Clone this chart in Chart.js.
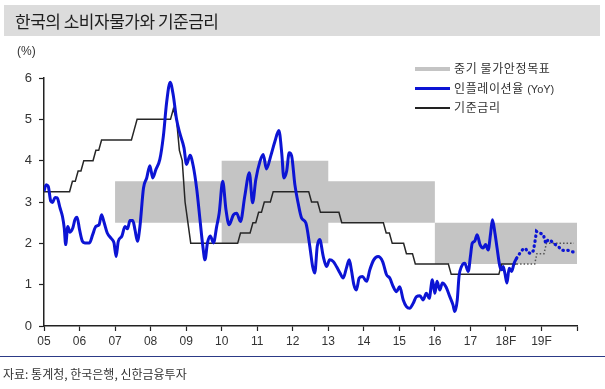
<!DOCTYPE html>
<html>
<head>
<meta charset="utf-8">
<script src="https://cdn.jsdelivr.net/npm/chart.js@4.4.1/dist/chart.umd.min.js"></script>
<style>
  body{margin:0;width:605px;height:389px;background:#fff;position:relative;overflow:hidden;font-family:"Noto Sans CJK KR","Noto Sans",sans-serif;color:#333}
  #chartWrap{position:absolute;left:0;top:0;width:605px;height:389px}
  #title{position:absolute;left:4px;top:5px;width:596px;height:31px;background:#dcdcdc}
  #title span{position:absolute;left:11px;top:3px;font-size:17px;color:#1e1e1e;letter-spacing:-0.5px}
  #unit{position:absolute;left:17px;top:44px;font-family:"Liberation Sans",Arial,sans-serif;font-size:12px;color:#333}
  .lg{position:absolute;left:415px;height:16px;font-size:12px;color:#333;white-space:nowrap}
  .lg i{position:absolute;left:0;width:35px}
  .lg span{position:absolute;left:39px;top:-1px;letter-spacing:0.6px}
  .lg span b{font-family:"Liberation Sans",Arial,sans-serif;font-weight:normal;font-size:11px;letter-spacing:0}
  #sep{position:absolute;left:0;top:356px;width:605px;height:1px;background:#2c3a86}
  #src{position:absolute;left:3px;top:365px;font-size:12px;color:#333}
</style>
</head>
<body>
<div id="chartWrap"><canvas id="chart" width="605" height="389"></canvas></div>
<div id="title"><span>한국의 소비자물가와 기준금리</span></div>
<div id="unit">(%)</div>
<div class="lg" style="top:60px"><i style="top:7px;height:4px;background:#c4c4c4"></i><span>중기 물가안정목표</span></div>
<div class="lg" style="top:80px"><i style="top:7px;height:3px;background:#0c14d4"></i><span>인플레이션율 <b>(YoY)</b></span></div>
<div class="lg" style="top:99px"><i style="top:8px;height:1.5px;background:#222"></i><span>기준금리</span></div>
<div id="sep"></div>
<div id="src">자료: 통계청, 한국은행, 신한금융투자</div>
<script>
// x 축 눈금 (2005 ~ 2020)
const xTickLabels = ['05','06','07','08','09','10','11','12','13','14','15','16','17','18F','19F',''];

// 중기 물가안정목표 범위 (구간 모서리)
const targetYears = [2007, 2010, 2010, 2013, 2013, 2016, 2016, 2020];
const targetUpper = [3.5, 3.5, 4.0, 4.0, 3.5, 3.5, 2.5, 2.5];
const targetLower = [2.5, 2.5, 2.0, 2.0, 2.5, 2.5, 1.5, 1.5];

// 인플레이션율 (YoY), 실적
const cpiYears = [2005.00,2005.06,2005.12,2005.19,2005.24,2005.31,2005.37,2005.45,2005.52,2005.57,2005.61,2005.67,2005.73,2005.81,2005.87,2005.93,
  2006.00,2006.08,2006.15,2006.28,2006.37,2006.46,2006.55,2006.62,2006.69,2006.78,2006.90,2006.97,
  2007.03,2007.09,2007.19,2007.28,2007.35,2007.42,2007.50,2007.56,2007.63,2007.70,2007.80,2007.89,2007.98,
  2008.06,2008.15,2008.26,2008.36,2008.45,2008.55,2008.64,2008.73,2008.83,2008.94,
  2009.01,2009.11,2009.20,2009.30,2009.39,2009.47,2009.53,2009.60,2009.68,2009.77,2009.86,2009.93,
  2010.03,2010.12,2010.21,2010.33,2010.42,2010.53,2010.65,2010.78,2010.87,2010.96,
  2011.08,2011.17,2011.26,2011.38,2011.50,2011.61,2011.69,2011.75,2011.83,2011.90,2011.97,
  2012.06,2012.15,2012.25,2012.37,2012.48,2012.56,2012.62,2012.69,2012.76,2012.86,2012.95,
  2013.04,2013.14,2013.23,2013.33,2013.42,2013.51,2013.59,2013.65,2013.72,2013.79,2013.87,2013.96,
  2014.08,2014.17,2014.28,2014.40,2014.53,2014.64,2014.73,2014.83,2014.92,
  2015.01,2015.11,2015.20,2015.29,2015.39,2015.48,2015.58,2015.67,2015.76,2015.84,2015.93,
  2016.00,2016.06,2016.14,2016.21,2016.31,2016.42,2016.51,2016.56,2016.63,2016.68,2016.75,2016.84,2016.94,
  2017.00,2017.05,2017.12,2017.19,2017.27,2017.36,2017.43,2017.50,2017.57,2017.62,2017.69,2017.75,2017.83,2017.88,2017.92,2017.97,
  2018.03,2018.09,2018.16,2018.23,2018.30];
const cpiValues = [3.26,3.42,3.38,3.02,2.99,3.11,3.10,2.86,2.65,2.37,1.97,2.41,2.27,2.37,2.57,2.63,
  2.33,2.05,2.01,2.01,2.21,2.41,2.45,2.69,2.51,2.25,2.11,2.01,
  1.68,2.05,2.17,2.41,2.35,2.55,2.55,2.33,2.05,2.41,3.34,3.58,3.88,
  3.58,3.79,4.03,4.60,5.40,5.90,5.57,5.00,4.64,4.31,
  3.91,4.13,3.87,3.30,2.57,1.93,1.60,2.01,2.18,2.01,2.41,2.73,
  3.50,2.82,2.45,2.69,2.73,2.53,3.14,3.71,2.98,3.54,
  3.99,4.15,3.80,4.11,4.47,4.73,4.19,3.58,3.75,4.19,4.11,
  3.42,2.98,2.61,2.49,1.93,1.44,1.28,1.93,2.09,1.68,1.44,
  1.60,1.56,1.44,1.28,1.16,1.40,1.60,1.36,1.00,0.87,1.16,1.20,
  1.08,1.36,1.60,1.68,1.56,1.24,1.16,0.95,0.83,
  0.95,0.63,0.47,0.43,0.55,0.71,0.73,0.63,0.79,0.67,1.12,
  0.79,1.08,0.87,1.04,0.95,0.71,0.51,0.35,0.63,1.20,1.44,1.52,1.32,
  1.68,2.00,2.05,2.21,1.97,1.89,1.97,1.84,2.25,2.57,2.25,1.89,1.44,1.36,1.44,1.28,
  1.04,1.40,1.32,1.52,1.64];

// 인플레이션율 전망
const cpiFcYears = [2018.30,2018.39,2018.48,2018.55,2018.62,2018.70,2018.77,2018.81,2018.86,2018.93,2019.05,2019.12,2019.19,2019.28,2019.37,2019.47,2019.56,2019.66,2019.75,2019.84,2019.91];
const cpiFcValues = [1.64,1.76,1.86,1.88,1.78,1.75,1.82,2.00,2.29,2.25,2.22,2.00,2.09,2.05,1.98,1.93,1.84,1.82,1.83,1.80,1.79];

// 기준금리, 실적
const rateYears = [2005.00,2005.72,2005.80,2005.88,2005.96,2006.04,2006.12,2006.38,2006.46,2006.54,2006.62,2007.46,2007.54,2007.62,
  2008.56,2008.64,2008.73,2008.81,2008.89,2008.97,2009.05,2009.13,
  2010.45,2010.53,2010.80,2010.88,2010.96,2011.04,2011.12,2011.20,2011.37,2011.45,
  2012.45,2012.53,2012.70,2012.78,2013.30,2013.38,2014.55,2014.63,2014.72,2014.80,
  2015.12,2015.20,2015.37,2015.45,2016.38,2016.46,2017.80,2017.88,2018.30];
const rateValues = [3.25,3.25,3.50,3.50,3.75,3.75,4.00,4.00,4.25,4.25,4.50,4.50,4.75,5.00,
  5.00,5.25,5.00,4.25,4.00,3.00,2.50,2.00,
  2.00,2.25,2.25,2.50,2.50,2.75,2.75,3.00,3.00,3.25,
  3.25,3.00,3.00,2.75,2.75,2.50,2.50,2.25,2.25,2.00,
  2.00,1.75,1.75,1.50,1.50,1.25,1.25,1.50,1.50];

// 기준금리 전망
const rateFcYears = [2018.30,2018.81,2018.87,2019.07,2019.14,2019.91];
const rateFcValues = [1.50,1.50,1.75,1.75,2.00,2.00];

const pts = (xs, ys) => xs.map((x, i) => ({ x, y: ys[i] }));

const BLUE = '#0c14d4';
const AXIS = '#222';
const TICK_FONT = { family: '"Liberation Sans", Arial, sans-serif' };

new Chart(document.getElementById('chart'), {
  type: 'line',
  data: {
    datasets: [
      { label: '인플레이션율 (YoY)', data: pts(cpiYears, cpiValues), borderColor: BLUE, borderWidth: 3,
        pointRadius: 0, cubicInterpolationMode: 'monotone', order: 0 },
      { label: '인플레이션율 전망', data: pts(cpiFcYears, cpiFcValues), borderColor: BLUE, borderWidth: 3.2,
        borderDash: [0.5, 4.5], borderCapStyle: 'round', pointRadius: 0, tension: 0, order: 1 },
      { label: '기준금리', data: pts(rateYears, rateValues), borderColor: '#262626', borderWidth: 1.5,
        pointRadius: 0, tension: 0, order: 2 },
      { label: '기준금리 전망', data: pts(rateFcYears, rateFcValues), borderColor: '#555', borderWidth: 1.5,
        borderDash: [1.5, 2], pointRadius: 0, tension: 0, order: 3 },
      { label: '중기 물가안정목표', data: pts(targetYears, targetUpper), borderWidth: 0,
        borderColor: 'rgba(0,0,0,0)', backgroundColor: '#c4c4c4', fill: '+1', pointRadius: 0, tension: 0, order: 10 },
      { label: '목표 하단', data: pts(targetYears, targetLower), borderWidth: 0,
        borderColor: 'rgba(0,0,0,0)', pointRadius: 0, fill: false, tension: 0, order: 11 }
    ]
  },
  options: {
    responsive: false,
    animation: false,
    events: [],
    layout: { padding: { left: 0, top: 78, right: 28, bottom: 35 } },
    plugins: { legend: { display: false }, tooltip: { enabled: false } },
    scales: {
      x: {
        type: 'linear', min: 2005, max: 2020,
        afterFit: s => { s.height = 28; },
        border: { color: AXIS, width: 1.5 },
        grid: { drawOnChartArea: false, color: AXIS, tickLength: 5, tickWidth: 1.2 },
        ticks: { stepSize: 1, autoSkip: false, maxRotation: 0, padding: 3, color: '#333',
          font: { ...TICK_FONT, size: 12 }, callback: (v, i) => xTickLabels[i] }
      },
      y: {
        min: 0, max: 6,
        afterFit: s => { s.width = 44; },
        border: { color: AXIS, width: 1.5 },
        grid: { drawOnChartArea: false, color: AXIS, tickLength: 5, tickWidth: 1.2 },
        ticks: { stepSize: 1, padding: 7, color: '#333', font: { ...TICK_FONT, size: 13 } }
      }
    }
  }
});
</script>
</body>
</html>
